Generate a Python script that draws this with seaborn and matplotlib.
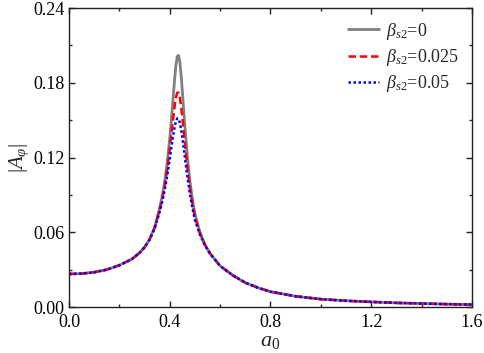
import numpy as np
import pandas as pd
import matplotlib
matplotlib.use("Agg")
import matplotlib.pyplot as plt
import seaborn as sns
from matplotlib.ticker import MultipleLocator, FormatStrFormatter

# === Data ===
a0 = [0.00, 0.05, 0.10, 0.15, 0.20, 0.25, 0.28, 0.30, 0.32, 0.34,
      0.36, 0.37, 0.38, 0.39, 0.40, 0.41, 0.42, 0.425, 0.43, 0.435,
      0.44, 0.445, 0.45, 0.46, 0.47, 0.48, 0.49, 0.50, 0.52, 0.54,
      0.56, 0.60, 0.65, 0.70, 0.75, 0.80, 0.90, 1.00, 1.10, 1.20,
      1.30, 1.40, 1.50, 1.60]

amp_0 = [0.0265, 0.0268, 0.0279, 0.0300, 0.0335, 0.0385, 0.0435, 0.0480, 0.0545, 0.0640,
         0.0795, 0.0889, 0.1007, 0.1159, 0.1352, 0.1590, 0.1844, 0.1949, 0.2012, 0.2020,
         0.1967, 0.1866, 0.1734, 0.1454, 0.1208, 0.1014, 0.0864, 0.0747, 0.0600, 0.0500,
         0.0430, 0.0330, 0.0255, 0.0195, 0.0155, 0.0123, 0.0086, 0.0063, 0.0050, 0.0041,
         0.0033, 0.0028, 0.0023, 0.0019]

amp_025 = [0.0265, 0.0268, 0.0279, 0.0300, 0.0335, 0.0385, 0.0435, 0.0480, 0.0543, 0.0635,
           0.0780, 0.0866, 0.0973, 0.1104, 0.1264, 0.1447, 0.1621, 0.1685, 0.1721, 0.1720,
           0.1681, 0.1613, 0.1521, 0.1316, 0.1122, 0.0960, 0.0828, 0.0723, 0.0590, 0.0497,
           0.0430, 0.0330, 0.0255, 0.0195, 0.0155, 0.0123, 0.0086, 0.0063, 0.0050, 0.0041,
           0.0033, 0.0028, 0.0023, 0.0019]

amp_05 = [0.0265, 0.0268, 0.0279, 0.0300, 0.0335, 0.0385, 0.0434, 0.0478, 0.0540, 0.0630,
          0.0764, 0.0843, 0.0939, 0.1053, 0.1186, 0.1328, 0.1452, 0.1494, 0.1514, 0.1510,
          0.1480, 0.1429, 0.1361, 0.1204, 0.1048, 0.0910, 0.0794, 0.0699, 0.0580, 0.0494,
          0.0428, 0.0330, 0.0255, 0.0195, 0.0155, 0.0123, 0.0086, 0.0063, 0.0050, 0.0041,
          0.0033, 0.0028, 0.0023, 0.0019]

labels = [r"$\beta_{s2}$=0", r"$\beta_{s2}$=0.025", r"$\beta_{s2}$=0.05"]

df = pd.DataFrame({
    "a0": a0 * 3,
    "amp": amp_0 + amp_025 + amp_05,
    "case": [labels[0]] * len(a0) + [labels[1]] * len(a0) + [labels[2]] * len(a0),
})

# === Style ===
sns.set_style("ticks")
plt.rcParams.update({
    "font.family": ["Liberation Serif", "DejaVu Serif"],
    "mathtext.fontset": "custom",
    "mathtext.rm": "Liberation Serif",
    "mathtext.it": "Liberation Serif:italic",
    "mathtext.bf": "Liberation Serif:bold",
    "axes.linewidth": 1.0,
    "axes.edgecolor": "#222222",
    "xtick.direction": "in",
    "ytick.direction": "in",
    "xtick.top": True,
    "ytick.right": True,
})

fig = plt.figure(figsize=(4.84, 3.53), dpi=100)
ax = fig.add_axes([0.1426, 0.1303, 0.8324, 0.8470])

palette = {labels[0]: "#808080", labels[1]: "#ff0000", labels[2]: "#0000ff"}
dashes = {labels[0]: "", labels[1]: (3, 1.5), labels[2]: (1, 1)}
widths = {labels[0]: 2.0, labels[1]: 1.8, labels[2]: 1.8}

for lab in labels:
    sub = df[df["case"] == lab]
    sns.lineplot(data=sub, x="a0", y="amp", color=palette[lab], lw=widths[lab],
                 label=lab, ax=ax, sort=False)
    line = ax.get_lines()[-1]
    if dashes[lab]:
        line.set_dashes(dashes[lab])

ax.set_xlim(0, 1.6)
ax.set_ylim(0, 0.24)
ax.xaxis.set_major_locator(MultipleLocator(0.4))
ax.xaxis.set_minor_locator(MultipleLocator(0.2))
ax.yaxis.set_major_locator(MultipleLocator(0.06))
ax.yaxis.set_minor_locator(MultipleLocator(0.03))
ax.xaxis.set_major_formatter(FormatStrFormatter("%.1f"))
ax.yaxis.set_major_formatter(FormatStrFormatter("%.2f"))
ax.tick_params(which="major", length=4, width=1, labelsize=13, colors="#222222",
               labelcolor="black", top=True, right=True)
ax.tick_params(axis="x", which="major", pad=5)
ax.tick_params(axis="y", which="major", pad=3)
ax.tick_params(which="minor", length=2.5, width=1, top=True, right=True)

ax.set_xlabel(r"$a_0$", fontsize=16, labelpad=1)
ax.set_ylabel(r"$|A_{\varphi}|$", fontsize=15, labelpad=2)

ax.legend(loc="upper right", frameon=False, fontsize=13, handlelength=1.7,
          handletextpad=0.4, labelspacing=0.3, borderaxespad=0.3)

plt.savefig("out.png", dpi=100)
